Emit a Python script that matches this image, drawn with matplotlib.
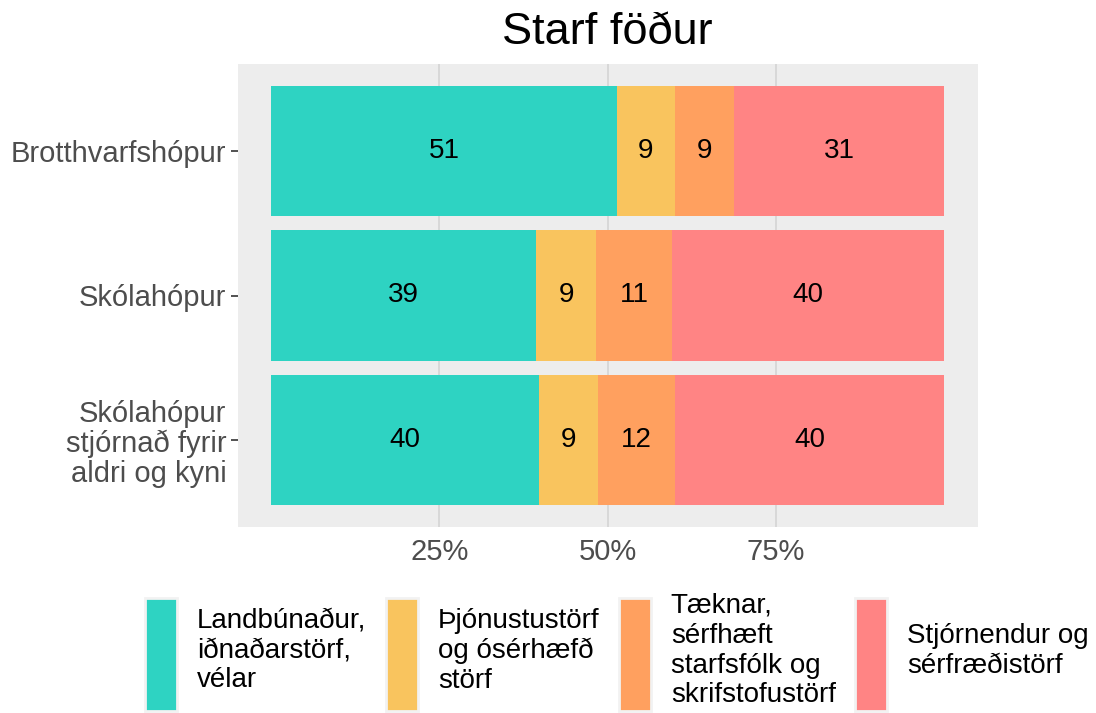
import matplotlib
matplotlib.use("Agg")
import matplotlib.pyplot as plt
import numpy as np
from matplotlib.patches import Patch

plt.rcParams['font.family'] = ['Liberation Sans', 'DejaVu Sans']

groups = ["Brotthvarfshópur", "Skólahópur", "Skólahópur\nstjórnað fyrir\naldri og kyni"]
categories = ["Landbúnaður,\niðnaðarstörf,\nvélar",
              "Þjónustustörf\nog ósérhæfð\nstörf",
              "Tæknar,\nsérfhæft\nstarfsfólk og\nskrifstofustörf",
              "Stjórnendur og\nsérfræðistörf"]
colors = ["#2ED3C2", "#F9C45E", "#FFA05F", "#FF8484"]
values = {
    categories[0]: [51.4, 39.4, 39.8],
    categories[1]: [8.6, 8.9, 8.8],
    categories[2]: [8.8, 11.3, 11.4],
    categories[3]: [31.2, 40.4, 40.0],
}
labels = {
    categories[0]: ["51", "39", "40"],
    categories[1]: ["9", "9", "9"],
    categories[2]: ["9", "11", "12"],
    categories[3]: ["31", "40", "40"],
}
xticks = [25, 50, 75]
xticklabels = ["25%", "50%", "75%"]
title = "Starf föður"

fig = plt.figure(figsize=(10.96, 7.13), dpi=100)
ax = fig.add_axes([237.5/1096, 1-527/713, (977.7-237.5)/1096, (527-64)/713])
ax.set_facecolor("#EDEDED")
ypos = np.arange(len(groups))
left = np.zeros(len(groups))
handles = []
for cat, col in zip(categories, colors):
    v = np.array(values[cat])
    ax.barh(ypos, v, left=left, height=0.9, color=col, zorder=2)
    for i, (vv, lab) in enumerate(zip(v, labels[cat])):
        ax.text(left[i] + vv/2, ypos[i], lab, ha="center", va="center",
                fontsize=20, color="black", zorder=3)
    left += v
    handles.append(Patch(facecolor=col, edgecolor="#F2F2F2", linewidth=2, label=cat))

ax.set_xlim(-5, 105)
ax.set_ylim(len(groups) - 1 + 0.6, -0.6)
ax.set_yticks(ypos)
ax.set_yticklabels(groups, fontsize=21, color="#4D4D4D", linespacing=1.08)
ax.set_xticks(xticks)
ax.set_xticklabels(xticklabels, fontsize=21, color="#4D4D4D")
ax.tick_params(axis="x", length=0, pad=8)
ax.tick_params(axis="y", length=5, width=1.2, color="#333333", pad=3)
ax.grid(axis="x", color="#D6D6D6", linewidth=1.3, zorder=0)
ax.set_axisbelow(True)
for s in ax.spines.values():
    s.set_visible(False)
for t in ax.get_yticklabels():
    t.set_multialignment("right")

fig.text(607.5/1096, 1-32/713, title, ha="center", va="center", fontsize=32.5)

leg = fig.legend(handles=handles, loc="center", bbox_to_anchor=(617/1096, 1-652/713),
                 ncol=4, frameon=False, fontsize=20, handlelength=1.15,
                 handleheight=5.88, handletextpad=0.72, columnspacing=0.7,
                 borderaxespad=0, labelspacing=0, borderpad=0)
for t in leg.get_texts():
    t.set_linespacing(1.19)

fig.savefig("out.png", dpi=100)
